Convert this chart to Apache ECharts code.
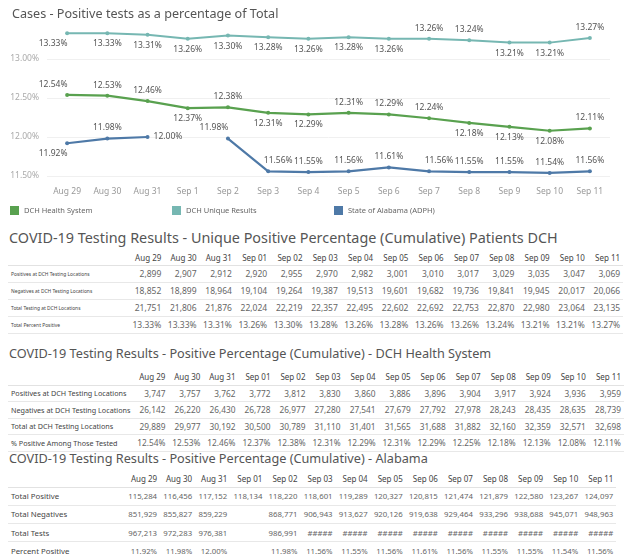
<!DOCTYPE html>
<html><head><meta charset="utf-8">
<script src="https://cdn.jsdelivr.net/npm/echarts@6/dist/echarts.min.js"></script>
<style>
html,body{margin:0;padding:0;width:624px;height:560px;overflow:hidden;background:#fff;font-family:"Noto Sans",sans-serif;}
#chart{position:absolute;left:0;top:0;width:624px;height:228px;}
.ttl{position:absolute;left:9px;color:#555;white-space:nowrap;line-height:18px;}
table{position:absolute;left:8px;border-collapse:collapse;table-layout:fixed;}
td,th{padding:0 3px 0 0;white-space:nowrap;overflow:hidden;}
th{font-weight:normal;color:#444;text-align:right;border-bottom:1px solid #e2e2e2;}
td{color:#666;text-align:right;border-bottom:1px solid #e8e8e8;}
td.lbl{text-align:left;padding-left:3px;color:#444;}
</style>
</head><body>
<div id="chart"></div>
<div id="tables"></div>
<script>
// ---------- data ----------
const chartDates = ['Aug 29','Aug 30','Aug 31','Sep 1','Sep 2','Sep 3','Sep 4','Sep 5','Sep 6','Sep 7','Sep 8','Sep 9','Sep 10','Sep 11'];
const tableDates = ['Aug 29','Aug 30','Aug 31','Sep 01','Sep 02','Sep 03','Sep 04','Sep 05','Sep 06','Sep 07','Sep 08','Sep 09','Sep 10','Sep 11'];
const yTicks = [11.5, 12.0, 12.5, 13.0];

const dchUniquePct = [13.33,13.33,13.31,13.26,13.30,13.28,13.26,13.28,13.26,13.26,13.24,13.21,13.21,13.27];
const dchHealthPct = [12.54,12.53,12.46,12.37,12.38,12.31,12.29,12.31,12.29,12.24,12.18,12.13,12.08,12.11];
const alabamaPct   = [11.92,11.98,12.00,null,11.98,11.56,11.55,11.56,11.61,11.56,11.55,11.55,11.54,11.56];

const uniquePositives = [2899,2907,2912,2920,2955,2970,2982,3001,3010,3017,3029,3035,3047,3069];
const uniqueNegatives = [18852,18899,18964,19104,19264,19387,19513,19601,19682,19736,19841,19945,20017,20066];
const uniqueTotal     = [21751,21806,21876,22024,22219,22357,22495,22602,22692,22753,22870,22980,23064,23135];
const uniquePctTable  = [13.33,13.33,13.31,13.26,13.30,13.28,13.26,13.28,13.26,13.26,13.24,13.21,13.21,13.27];

const dchPositives = [3747,3757,3762,3772,3812,3830,3860,3886,3896,3904,3917,3924,3936,3959];
const dchNegatives = [26142,26220,26430,26728,26977,27280,27541,27679,27792,27978,28243,28435,28635,28739];
const dchTotal     = [29889,29977,30192,30500,30789,31110,31401,31565,31688,31882,32160,32359,32571,32698];
const dchPctTable  = [12.54,12.53,12.46,12.37,12.38,12.31,12.29,12.31,12.29,12.25,12.18,12.13,12.08,12.11];

const alPositive  = [115284,116456,117152,118134,118220,118601,119289,120327,120815,121474,121879,122580,123267,124097];
const alNegatives = [851929,855827,859229,null,868771,906943,913627,920126,919638,929464,933296,938688,945071,948963];
const alTests     = [967213,972283,976381,null,986991,'#####','#####','#####','#####','#####','#####','#####','#####','#####'];
const alPctTable  = [11.92,11.98,12.00,null,11.98,11.56,11.55,11.56,11.61,11.56,11.55,11.55,11.54,11.56];

// ---------- label placement (style) ----------
const uniquePos  = ['bottom','bottom','bottom','bottom','bottom','bottom','bottom','bottom','bottom','top','top','bottom','bottom','top'];
const healthPos  = ['top','top','top','bottom','top','bottom','bottom','top','top','top','bottom','bottom','bottom','top'];
const alabamaPos = ['bottom','top','right',null,'top','top','top','top','top','top','top','top','top','top'];
const uniqueOff  = {0:[-14,0]};
const healthOff  = {0:[-14,0]};
const alabamaOff = {0:[-14,0],4:[-14,0],5:[10,0],9:[10,0]};

const FONT = '"Noto Sans", sans-serif';
const C_HEALTH = '#59a14f', C_UNIQUE = '#76b7b2', C_AL = '#4e79a7';

function mkSeries(name, vals, color, pos, offs, width) {
  return {
    name: name, type: 'line', animation: false,
    data: vals.map((v, i) => v === null ? '-' : {
      value: v,
      label: { position: pos[i] || 'top', offset: offs[i] || [0, 0] }
    }),
    symbol: 'circle', symbolSize: 4,
    lineStyle: { width: width, color: color },
    itemStyle: { color: color },
    label: { show: true, fontSize: 8.5, color: '#555', distance: 4, fontFamily: FONT,
      formatter: p => Number(p.value).toFixed(2) + '%' },
    emphasis: { disabled: true }
  };
}

const legendBase = { icon: 'rect', itemWidth: 9, itemHeight: 9, top: 206, padding: 0,
  textStyle: { fontSize: 7.5, color: '#666', fontFamily: FONT }, selectedMode: false };

const chart = echarts.init(document.getElementById('chart'), null, { renderer: 'canvas' });
chart.setOption({
  animation: false,
  title: { text: 'Cases - Positive tests as a percentage of Total', left: 7, top: 3,
    textStyle: { fontSize: 12.6, color: '#555', fontWeight: 'normal', fontFamily: FONT } },
  legend: [
    Object.assign({ data: ['DCH Health System'], left: 10 }, legendBase),
    Object.assign({ data: ['DCH Unique Results'], left: 172 }, legendBase),
    Object.assign({ data: ['State of Alabama (ADPH)'], left: 334 }, legendBase)
  ],
  grid: { left: 47, right: 14, top: 20, bottom: 52, containLabel: false },
  xAxis: { type: 'category', data: chartDates, boundaryGap: true,
    axisLine: { show: false }, axisTick: { show: false },
    axisLabel: { fontSize: 8.5, color: '#999', margin: 11, fontFamily: FONT } },
  yAxis: { type: 'value', min: yTicks[0], max: 13.5, interval: 0.5,
    axisLine: { show: false }, axisTick: { show: false },
    axisLabel: { fontSize: 8.5, color: '#aaa', fontFamily: FONT, showMaxLabel: false,
      formatter: v => yTicks.indexOf(v) >= 0 ? v.toFixed(2) + '%' : '' },
    splitLine: { lineStyle: { color: ['#f0f0f0','#f0f0f0','#f0f0f0','#f0f0f0','rgba(0,0,0,0)'], width: 1 } } },
  series: [
    mkSeries('DCH Unique Results', dchUniquePct, C_UNIQUE, uniquePos, uniqueOff, 2),
    mkSeries('DCH Health System', dchHealthPct, C_HEALTH, healthPos, healthOff, 2.2),
    mkSeries('State of Alabama (ADPH)', alabamaPct, C_AL, alabamaPos, alabamaOff, 2.2)
  ]
});

// ---------- tables ----------
function fmtNum(v) { return v === null ? '' : (typeof v === 'string' ? v : v.toLocaleString('en-US')); }
function fmtPct(v) { return v === null ? '' : v.toFixed(2) + '%'; }

function buildTable(cfg) {
  const host = document.getElementById('tables');
  const t = document.createElement('div');
  t.className = 'ttl'; t.style.top = cfg.titleTop + 'px'; t.style.fontSize = cfg.titleFs + 'px';
  t.textContent = cfg.title;
  host.appendChild(t);
  const tb = document.createElement('table');
  tb.style.top = cfg.top + 'px';
  let html = '<colgroup><col style="width:' + cfg.labelW + 'px">';
  tableDates.forEach(() => html += '<col style="width:' + cfg.colW + 'px">');
  html += '</colgroup><tr style="height:' + cfg.headH + 'px"><th></th>';
  tableDates.forEach(d => html += '<th style="font-size:' + cfg.headFs + 'px">' + d + '</th>');
  html += '</tr>';
  cfg.rows.forEach(r => {
    html += '<tr style="height:' + cfg.rowH + 'px"><td class="lbl" style="font-size:' + cfg.labelFs + 'px">' + r.label + '</td>';
    r.values.forEach(v => html += '<td style="font-size:' + cfg.numFs + 'px">' + r.fmt(v) + '</td>');
    html += '</tr>';
  });
  tb.innerHTML = html;
  host.appendChild(tb);
}

buildTable({
  title: 'COVID-19 Testing Results - Unique Positive Percentage (Cumulative) Patients DCH',
  titleTop: 229, titleFs: 14.4, top: 251, labelW: 121, colW: 35.3, headH: 14, rowH: 17,
  headFs: 8, labelFs: 4.9, numFs: 8.5,
  rows: [
    { label: 'Positives at DCH Testing Locations', values: uniquePositives, fmt: fmtNum },
    { label: 'Negatives at DCH Testing Locations', values: uniqueNegatives, fmt: fmtNum },
    { label: 'Total Testing at DCH Locations', values: uniqueTotal, fmt: fmtNum },
    { label: 'Total Percent Positive', values: uniquePctTable, fmt: fmtPct }
  ]
});
buildTable({
  title: 'COVID-19 Testing Results - Positive Percentage (Cumulative) - DCH Health System',
  titleTop: 344, titleFs: 12.7, top: 369, labelW: 114, colW: 35.7, headH: 16, rowH: 16.5,
  headFs: 8, labelFs: 7.2, numFs: 8.3,
  rows: [
    { label: 'Positives at DCH Testing Locations', values: dchPositives, fmt: fmtNum },
    { label: 'Negatives at DCH Testing Locations', values: dchNegatives, fmt: fmtNum },
    { label: 'Total at DCH Testing Locations', values: dchTotal, fmt: fmtNum },
    { label: '% Positive Among Those Tested', values: dchPctTable, fmt: fmtPct }
  ]
});
buildTable({
  title: 'COVID-19 Testing Results - Positive Percentage (Cumulative) - Alabama',
  titleTop: 449, titleFs: 12.7, top: 471, labelW: 117, colW: 35.1, headH: 16, rowH: 18.3,
  headFs: 8, labelFs: 7.8, numFs: 7.8,
  rows: [
    { label: 'Total Positive', values: alPositive, fmt: fmtNum },
    { label: 'Total Negatives', values: alNegatives, fmt: fmtNum },
    { label: 'Total Tests', values: alTests, fmt: fmtNum },
    { label: 'Percent Positive', values: alPctTable, fmt: fmtPct }
  ]
});
</script>
</body></html>
